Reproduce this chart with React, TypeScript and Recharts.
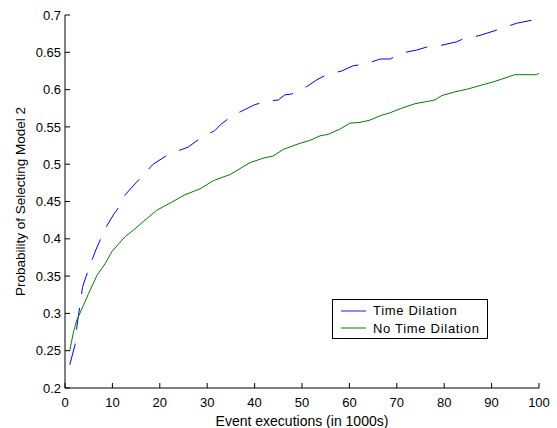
import React from "react";
import { LineChart, Line, XAxis, YAxis, Legend } from "recharts";

// Time Dilation (blue dashed)
const blueX = [1, 2.2, 2.5, 3.2, 3.7, 4.2, 5.3, 6.5, 8.5, 10.3, 11, 12.7, 15.1, 18.6, 21.3, 24.3, 26, 28.8, 31.6, 32.8, 35.5, 36.9, 40.1, 43.2, 45, 46.4, 47.8, 51, 53.1, 55.2, 58.4, 60.8, 63.3, 66.5, 68.6, 71, 74.2, 76.3, 79.1, 82.6, 84.7, 87.2, 90.7, 92.5, 95.3, 98.5, 100];
const blueY = [0.231, 0.26, 0.282, 0.313, 0.335, 0.345, 0.365, 0.385, 0.414, 0.433, 0.439, 0.459, 0.476, 0.5, 0.511, 0.519, 0.523, 0.536, 0.545, 0.553, 0.566, 0.57, 0.58, 0.585, 0.586, 0.593, 0.594, 0.604, 0.613, 0.62, 0.625, 0.632, 0.634, 0.641, 0.641, 0.649, 0.653, 0.657, 0.659, 0.664, 0.67, 0.672, 0.679, 0.683, 0.689, 0.693, 0.6955];

// No Time Dilation (green solid)
const greenX = [1, 1.8, 2.5, 3.9, 5, 6.75, 8.5, 9.9, 12.7, 14.5, 16.5, 19.3, 22.2, 25.3, 28.5, 31.3, 34.8, 36.9, 39, 41.8, 43.9, 46.1, 49.6, 51.7, 53.8, 55.5, 58, 60.1, 62.2, 64.3, 66.5, 68.6, 71, 73.8, 78, 79.5, 82.3, 85.1, 87.9, 90.7, 93.5, 94.9, 99.5, 100];
const greenY = [0.25, 0.2755, 0.291, 0.311, 0.327, 0.351, 0.367, 0.383, 0.403, 0.412, 0.423, 0.438, 0.448, 0.459, 0.467, 0.478, 0.486, 0.494, 0.502, 0.508, 0.511, 0.52, 0.528, 0.532, 0.538, 0.54, 0.547, 0.555, 0.556, 0.559, 0.565, 0.569, 0.575, 0.581, 0.586, 0.592, 0.597, 0.601, 0.606, 0.611, 0.617, 0.62, 0.62, 0.622];

const xTicks = [0, 10, 20, 30, 40, 50, 60, 70, 80, 90, 100];
const yTicks = [0.2, 0.25, 0.3, 0.35, 0.4, 0.45, 0.5, 0.55, 0.6, 0.65, 0.7];

const seriesNames = ["Time Dilation", "No Time Dilation"];
const BLUE = "#0000ff";
const GREEN = "#008000";
const FONT = "'Liberation Sans', Arial, Helvetica, sans-serif";

const blueData = blueX.map((x, i) => ({ x, y: blueY[i] }));
const greenData = greenX.map((x, i) => ({ x, y: greenY[i] }));

const tickStyle = { fontSize: 13, fill: "#000", fontFamily: FONT };
const blank = () => "";

const LegendBox = () => (
  <div
    style={{
      width: 154,
      height: 38,
      border: "1px solid #000",
      background: "#fff",
      fontFamily: FONT,
      fontSize: 13,
      letterSpacing: 0.7,
      color: "#000",
      position: "relative",
    }}
  >
    {seriesNames.map((name, i) => (
      <div
        key={name}
        style={{ position: "absolute", left: 8, top: 2 + i * 17.5, height: 17, display: "flex", alignItems: "center", whiteSpace: "nowrap" }}
      >
        <svg width={25} height={4} style={{ marginRight: 7 }}>
          <line
            x1={0}
            y1={2}
            x2={25}
            y2={2}
            stroke={i === 0 ? "#6f6fff" : GREEN}
            strokeWidth={i === 0 ? 1.6 : 1}
          />
        </svg>
        <span>{name}</span>
      </div>
    ))}
  </div>
);

export default function App() {
  return (
    <div style={{ position: "absolute", left: 0, top: 0 }}>
      <LineChart width={557} height={428} margin={{ top: 15, right: 18, bottom: 0, left: 0 }}>
        <XAxis
          xAxisId="b"
          type="number"
          dataKey="x"
          domain={[0, 100]}
          ticks={xTicks}
          height={40}
          tickSize={-5}
          tickMargin={14.5}
          tick={tickStyle}
          stroke="#000"
          allowDataOverflow
          label={{
            value: "Event executions (in 1000s)",
            position: "insideTop",
            offset: 28,
            style: { fontSize: 14, fill: "#000", fontFamily: FONT },
          }}
        />
        <XAxis
          xAxisId="t"
          orientation="top"
          type="number"
          dataKey="x"
          domain={[0, 100]}
          ticks={xTicks}
          height={0}
          tickSize={-5}
          tickFormatter={blank}
          stroke="#000"
        />
        <YAxis
          yAxisId="l"
          type="number"
          domain={[0.2, 0.7]}
          ticks={yTicks}
          width={65}
          tickSize={-5}
          tickMargin={9}
          tick={tickStyle}
          stroke="#000"
          allowDataOverflow
          label={{
            value: "Probability of Selecting Model 2",
            angle: -90,
            position: "insideLeft",
            offset: 20,
            style: { fontSize: 13.5, fill: "#000", fontFamily: FONT, textAnchor: "middle" },
          }}
        />
        <YAxis
          yAxisId="r"
          orientation="right"
          type="number"
          domain={[0.2, 0.7]}
          ticks={yTicks}
          width={0}
          tickSize={-5}
          tickFormatter={blank}
          stroke="#000"
        />
        <Legend
          layout="horizontal"
          verticalAlign="middle"
          align="center"
          content={() => <LegendBox />}
          wrapperStyle={{ left: 332, top: 299, width: 156, height: 40 }}
        />
        <Line
          data={blueData}
          xAxisId="b"
          yAxisId="l"
          dataKey="y"
          name={seriesNames[0]}
          type="linear"
          stroke={BLUE}
          strokeWidth={1}
          strokeDasharray="22 14"
          dot={false}
          activeDot={false}
          isAnimationActive={false}
        />
        <Line
          data={greenData}
          xAxisId="b"
          yAxisId="l"
          dataKey="y"
          name={seriesNames[1]}
          type="linear"
          stroke={GREEN}
          strokeWidth={1}
          dot={false}
          activeDot={false}
          isAnimationActive={false}
        />
      </LineChart>
    </div>
  );
}
